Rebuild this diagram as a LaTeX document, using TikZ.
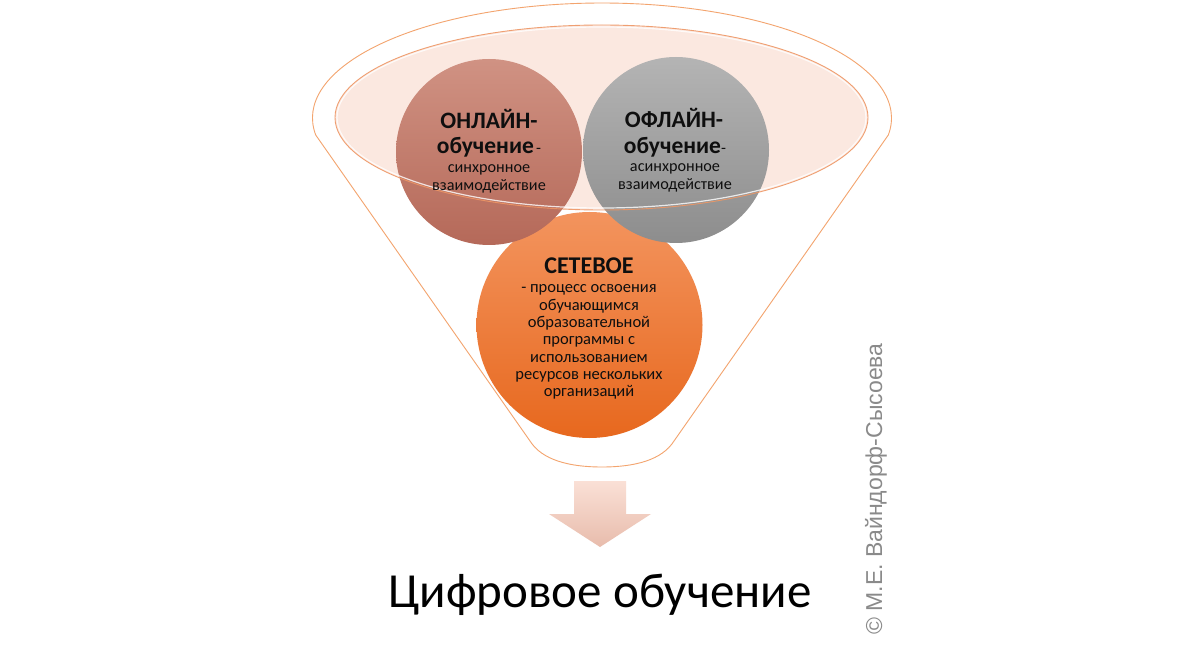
\documentclass[tikz,border=0pt]{standalone}
\usepackage{fontspec}
\setmainfont{Carlito}
\newfontfamily\arialfont{Liberation Sans}
\definecolor{funnelc}{RGB}{243,164,110}
\definecolor{ellfill}{RGB}{251,232,224}
\definecolor{elldraw}{RGB}{238,150,100}
\definecolor{ontop}{RGB}{208,146,131}
\definecolor{onbot}{RGB}{181,105,89}
\definecolor{offtop}{RGB}{180,180,180}
\definecolor{offbot}{RGB}{141,141,141}
\definecolor{nettop}{RGB}{243,148,94}
\definecolor{netbot}{RGB}{231,104,30}
\definecolor{arrtop}{RGB}{250,224,214}
\definecolor{arrbot}{RGB}{232,188,172}
\definecolor{copygray}{RGB}{138,138,138}
\definecolor{txt}{RGB}{15,15,15}
\tikzset{
  funnel/.style={draw=funnelc, line width=0.9pt, fill=white},
  ball/.style={circle, inner sep=0pt, draw=none},
  bigb/.style={anchor=base, text=txt, inner sep=0pt, font=\fontsize{23.5}{26}\selectfont\bfseries},
  netb/.style={anchor=base, text=txt, inner sep=0pt, font=\fontsize{24}{26}\selectfont\bfseries},
  sm/.style={anchor=base, text=txt, inner sep=0pt, font=\fontsize{16.2}{18}\selectfont},
  smn/.style={anchor=base, text=txt, inner sep=0pt, font=\fontsize{16.5}{18}\selectfont}
}
\begin{document}
\begin{tikzpicture}[x=1pt,y=1pt]
\fill[white] (0,0) rectangle (1200,-663);
\useasboundingbox (0,0) rectangle (1200,-663);
% funnel outline
\draw[funnel] (530,-441) -- (315.7,-135)
  arc[start angle=188.5, end angle=-8.5, x radius=289.5, y radius=115]
  -- (674,-441) .. controls (662,-460) and (635,-467) .. (602,-467)
  .. controls (569,-467) and (542,-460) .. (530,-441) -- cycle;
% inner ellipse fill
\fill[ellfill] (601.5,-117.5) ellipse[x radius=266.5, y radius=92.5];
% circles
\node[ball, minimum size=226pt, top color=nettop, bottom color=netbot] (net) at (589.5,-325) {};
\node[ball, minimum size=186pt, top color=ontop, bottom color=onbot] (on) at (489,-152) {};
\node[ball, minimum size=186pt, top color=offtop, bottom color=offbot] (off) at (676,-150) {};
% inner ellipse outline on top
\draw[white, line width=1.2pt, opacity=0.8] (601.5,-117.5) ellipse[x radius=264.5, y radius=90.5];
\draw[elldraw, line width=0.9pt, opacity=0.9] (601.5,-117.5) ellipse[x radius=266.5, y radius=92.5];
% texts ONLINE
\node[bigb] (on1) at (489,-128.5) {ОНЛАЙН-};
\node[anchor=base, inner sep=0pt, text=txt] (on2) at (489,-154) {{\fontsize{23.5}{26}\selectfont\bfseries обучение} {\fontsize{16.2}{18}\selectfont -}};
\node[sm] (on3) at (489,-173) {синхронное};
\node[sm] (on4) at (489,-191) {взаимодействие};
% texts OFFLINE
\node[bigb] (off1) at (674,-128) {ОФЛАЙН-};
\node[anchor=base, inner sep=0pt, text=txt] (off2) at (675,-154) {{\fontsize{23.5}{26}\selectfont\bfseries обучение}{\fontsize{16.2}{18}\selectfont -}};
\node[sm] (off3) at (675,-172) {асинхронное};
\node[sm] (off4) at (675,-190) {взаимодействие};
% texts NET
\node[netb] (net1) at (589,-273) {СЕТЕВОЕ};
\node[smn] (net2) at (589,-293) {- процесс освоения};
\node[smn] (net3) at (589,-310.3) {обучающимся};
\node[smn] (net4) at (589,-327.6) {образовательной};
\node[smn] (net5) at (589,-344.9) {программы с};
\node[smn] (net6) at (589,-362.2) {использованием};
\node[smn] (net7) at (589,-379.5) {ресурсов нескольких};
\node[smn] (net8) at (589,-396.8) {организаций};
% arrow
\path[top color=arrtop, bottom color=arrbot] (574,-481) -- (626,-481) -- (626,-514) -- (651,-514)
  -- (600,-547) -- (549,-514) -- (574,-514) -- cycle;
% title
\node[anchor=base, inner sep=0pt, text=black, font=\fontsize{49}{56}\selectfont] (title) at (600,-607) {Цифровое обучение};
% copyright
\node[rotate=90, anchor=base, inner sep=0pt, text=copygray, font=\arialfont\fontsize{23}{26}\selectfont] (copy) at (882,-489) {© М.Е. Вайндорф-Сысоева};
\end{tikzpicture}
\end{document}
